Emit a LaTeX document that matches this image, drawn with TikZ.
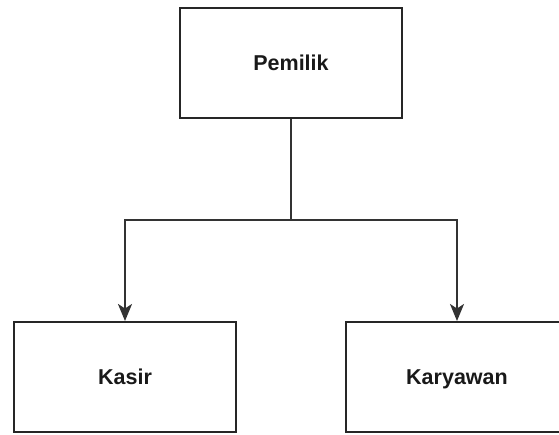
\documentclass[tikz,border=0pt]{standalone}
\usepackage{fontspec}
\setmainfont{Liberation Sans}
\usetikzlibrary{arrows.meta}
\begin{document}
\begin{tikzpicture}[x=1pt,y=-1pt,
  box/.style={draw=black!85, line width=2pt, minimum width=222pt, minimum height=110pt, inner sep=0pt, text height=15pt, text depth=0pt, font=\fontsize{21.5}{25}\selectfont\bfseries, text=black!90},
  conn/.style={draw=black!80, line width=2pt},
  arr/.style={conn, -{Stealth[length=17pt,width=14pt,inset=4.5pt]}}]
\useasboundingbox (0,0) rectangle (559,434);
\begin{scope}
\clip (0,0) rectangle (559,434);
\node[box] (pem) at (291,63) {Pemilik};
\node[box] (kas) at (125,377) {Kasir};
\node[box] (kar) at (457,377) {Karyawan};
\coordinate (j) at (291,220);
\draw[conn] (pem.south) -- (j);
\draw[arr] (j) -| (kas.north);
\draw[arr] (j) -| (kar.north);
\end{scope}
\end{tikzpicture}
\end{document}
